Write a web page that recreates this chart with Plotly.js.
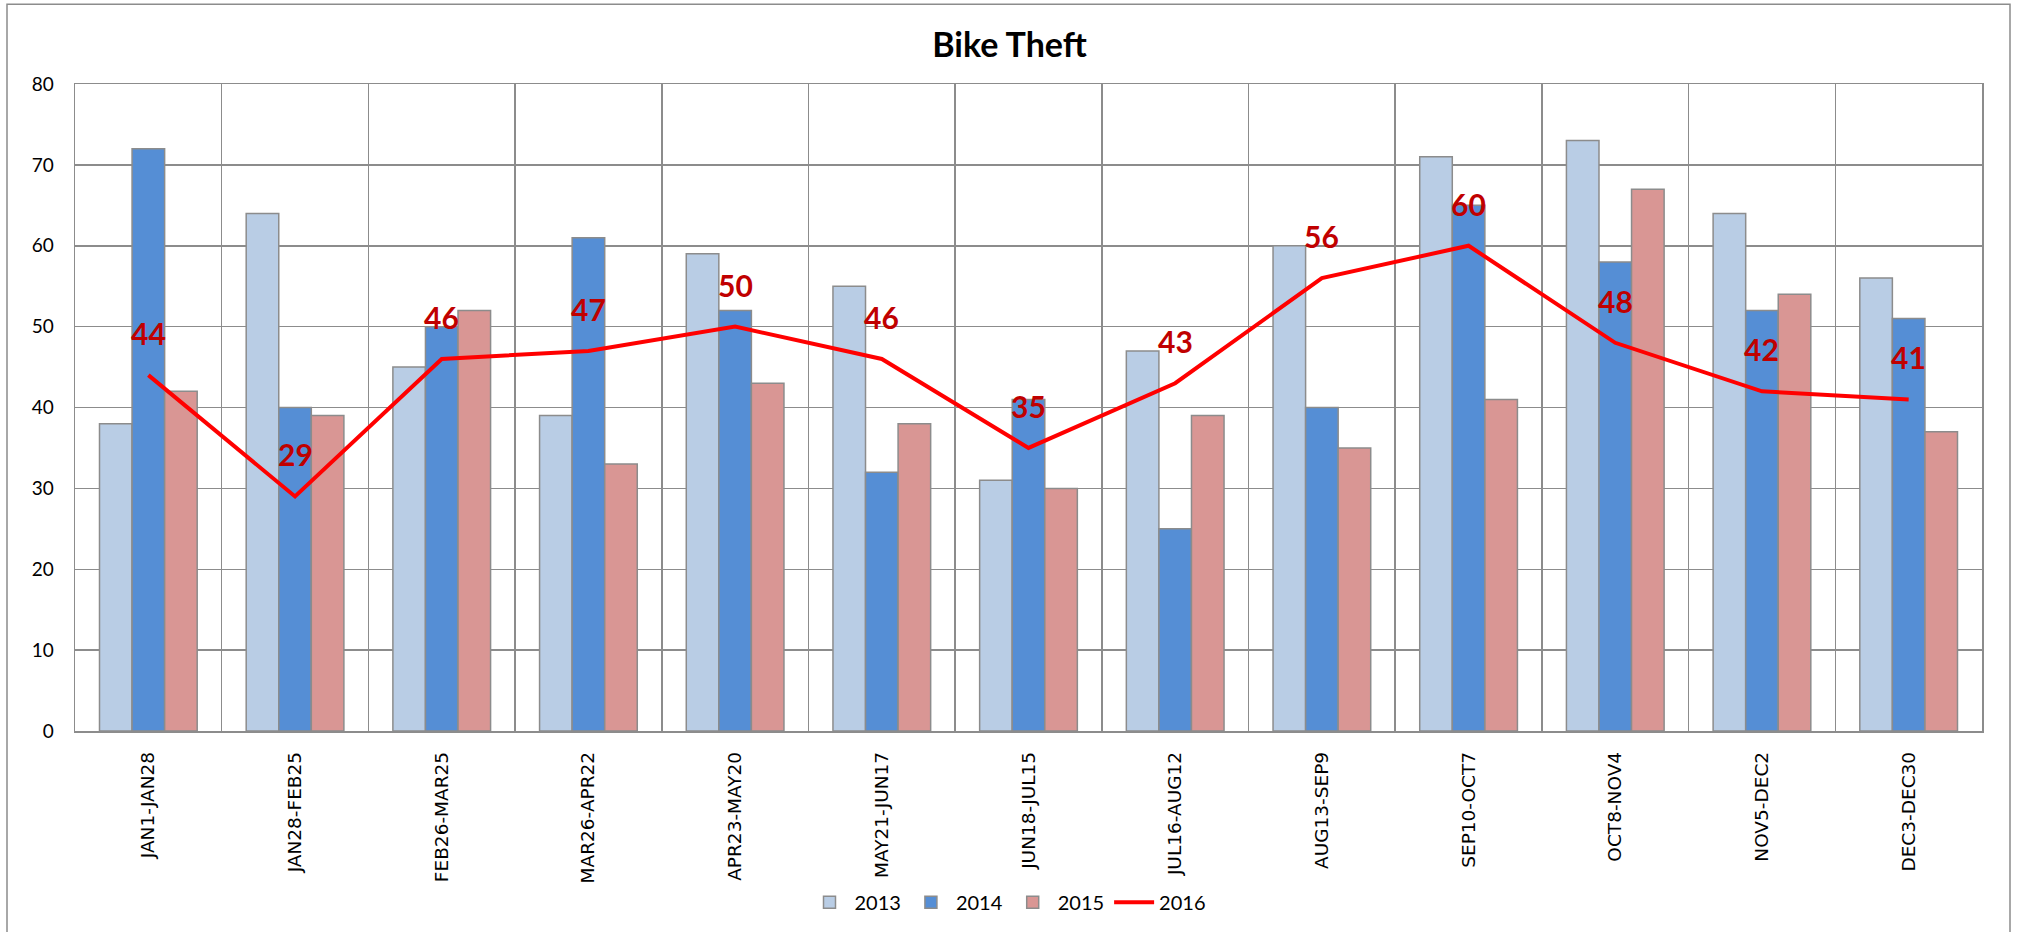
<!DOCTYPE html>
<html>
<head>
<meta charset="utf-8">
<script src="https://cdn.plot.ly/plotly-3.0.1.min.js"></script>
<style>
  html, body { margin: 0; padding: 0; background: #fff; }
  #chart { width: 2019px; height: 932px; }
</style>
</head>
<body>
<div id="chart"></div>
<script>
const categories = ["JAN1-JAN28", "JAN28-FEB25", "FEB26-MAR25", "MAR26-APR22", "APR23-MAY20",
  "MAY21-JUN17", "JUN18-JUL15", "JUL16-AUG12", "AUG13-SEP9", "SEP10-OCT7",
  "OCT8-NOV4", "NOV5-DEC2", "DEC3-DEC30"];
const v2013 = [38, 64, 45, 39, 59, 55, 31, 47, 60, 71, 73, 64, 56];
const v2014 = [72, 40, 50, 61, 52, 32, 41, 25, 40, 65, 58, 52, 51];
const v2015 = [42, 39, 52, 33, 43, 38, 30, 39, 35, 41, 67, 54, 37];
const v2016 = [44, 29, 46, 47, 50, 46, 35, 43, 56, 60, 48, 42, 41];
const seriesNames = ["2013", "2014", "2015", "2016"];

const gridColor = "#8c8c8c";
const barLine = { color: "#8c8c8c", width: 1.5 };

const traces = [
  { type: "bar", name: seriesNames[0], x: categories, y: v2013,
    marker: { color: "#B9CDE5", line: barLine } },
  { type: "bar", name: seriesNames[1], x: categories, y: v2014,
    marker: { color: "#558ED5", line: barLine } },
  { type: "bar", name: seriesNames[2], x: categories, y: v2015,
    marker: { color: "#D99694", line: barLine } },
  { type: "scatter", mode: "lines", name: seriesNames[3], x: categories, y: v2016,
    line: { color: "#FF0000", width: 4 } }
];

const annotations = categories.map((c, i) => ({
  x: c, y: v2016[i], text: "<b>" + v2016[i] + "</b>", showarrow: false,
  xanchor: "center", yanchor: "bottom", yshift: 22,
  font: { family: "Lato, 'Open Sans', sans-serif", size: 30, color: "#C00000" }
}));

const plotW = 1907, plotH = 648.5;
const shapes = [
  { type: "rect", xref: "paper", yref: "paper",
    x0: (7 - 75) / plotW, x1: (2010 - 75) / plotW,
    y0: (732.5 - 940) / plotH, y1: (732.5 - 4) / plotH,
    line: { color: "#8c8c8c", width: 1.5 }, fillcolor: "rgba(0,0,0,0)", layer: "below" }
];

const layout = {
  width: 2019, height: 932,
  margin: { l: 75, r: 37, t: 84, b: 199.5 },
  paper_bgcolor: "#fff", plot_bgcolor: "#fff",
  title: { text: "<b>Bike Theft</b>", x: 0.5, xanchor: "center", xref: "container",
    y: 1 - 45 / 932, yanchor: "middle", yref: "container",
    font: { family: "Lato, 'Open Sans', sans-serif", size: 34, color: "#000" } },
  barmode: "group", bargap: 0.334, bargroupgap: 0,
  xaxis: {
    type: "category", tickson: "boundaries", showgrid: true, gridcolor: gridColor, gridwidth: 1.5,
    ticks: "", tickangle: -90, ticklabelstandoff: 12,
    tickfont: { family: "'DejaVu Sans', sans-serif", size: 18.5, color: "#000" },
    showline: true, linecolor: gridColor, linewidth: 1.5, mirror: true, zeroline: false
  },
  yaxis: {
    range: [0, 80], dtick: 10, showgrid: true, gridcolor: gridColor, gridwidth: 1.5,
    ticks: "", ticklabelstandoff: 16,
    tickfont: { family: "Lato, 'Open Sans', sans-serif", size: 19, color: "#000" },
    showline: true, linecolor: gridColor, linewidth: 1.5, mirror: true, zeroline: false
  },
  legend: { orientation: "h", x: (1008 - 75) / plotW, xanchor: "center",
    y: (732.5 - 903) / plotH, yanchor: "middle",
    font: { family: "Lato, 'Open Sans', sans-serif", size: 20, color: "#000" },
    itemwidth: 40, traceorder: "normal" },
  annotations: annotations,
  shapes: shapes,
  hovermode: false,
  showlegend: true
};

Plotly.newPlot("chart", traces, layout, { displayModeBar: false, staticPlot: true });
</script>
</body>
</html>
